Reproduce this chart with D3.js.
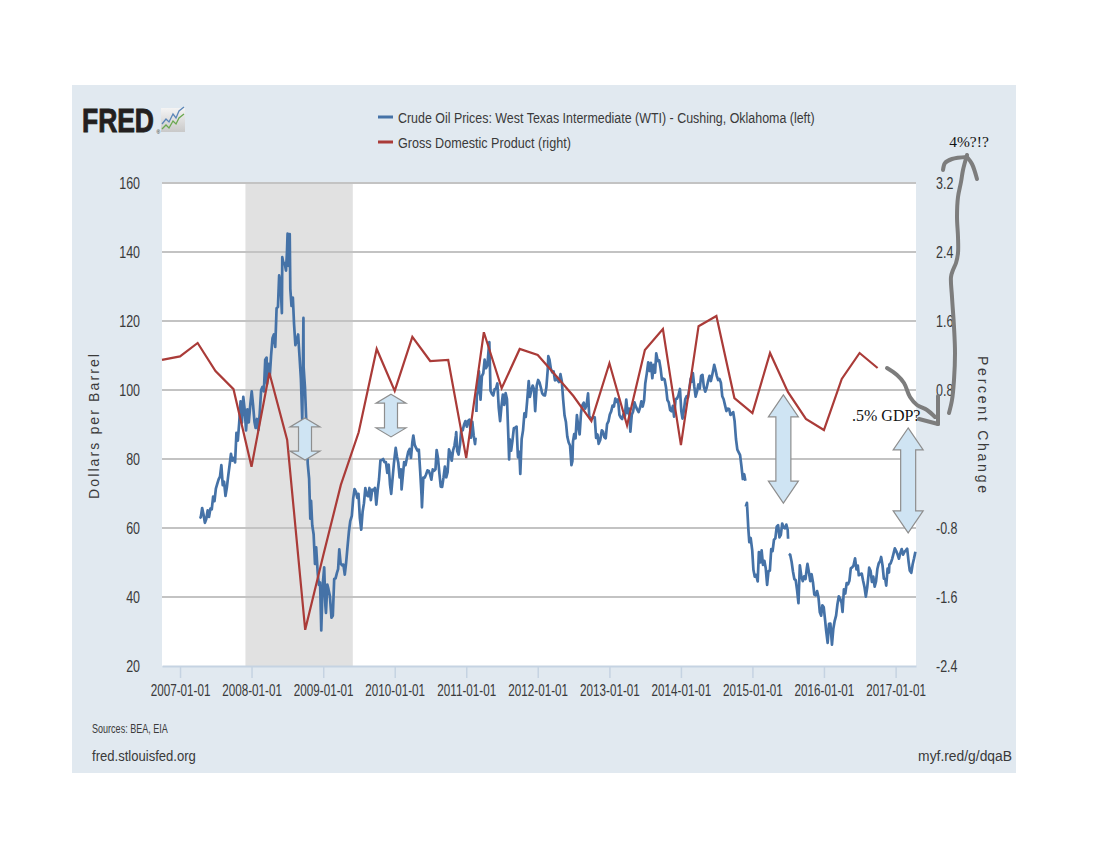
<!DOCTYPE html>
<html><head><meta charset="utf-8">
<script src="https://cdn.jsdelivr.net/npm/d3@7"></script>
<style>body{margin:0;background:#fff;} svg{display:block;}</style>
</head><body><svg id="chart" width="1100" height="850"></svg>
<script>
// ---------------- DATA ----------------
const oilSeries = [
["2007-04-10",62.9],["2007-04-17",63.1],["2007-04-24",65.8],["2007-05-01",63.9],["2007-05-08",61.5],["2007-05-15",62.6],["2007-05-22",65.1],["2007-05-29",63.2],["2007-06-05",65.6],["2007-06-12",65.4],["2007-06-19",69.1],["2007-06-26",67.8],["2007-07-03",71.4],["2007-07-10",72.8],["2007-07-17",74.1],["2007-07-24",74.9],["2007-07-31",78.2],["2007-08-07",72.4],["2007-08-14",73.4],["2007-08-21",69.3],["2007-08-28",71.7],["2007-09-04",75.1],["2007-09-11",78.2],["2007-09-18",81.5],["2007-09-25",79.5],["2007-10-02",80.3],["2007-10-09",79.0],["2007-10-16",87.6],["2007-10-23",85.3],["2007-10-30",90.4],["2007-11-06",96.7],["2007-11-13",90.5],["2007-11-20",98.0],["2007-11-27",94.4],["2007-12-04",88.3],["2007-12-11",94.4],["2007-12-18",90.6],["2007-12-26",95.9],
["2008-01-02",99.6],["2008-01-09",95.6],["2008-01-16",90.8],["2008-01-22",89.0],["2008-01-29",91.6],["2008-02-05",88.4],["2008-02-12",93.3],["2008-02-19",100.0],["2008-02-26",100.9],["2008-03-04",99.6],["2008-03-11",108.8],["2008-03-18",109.4],["2008-03-20",101.8],["2008-03-27",107.6],["2008-04-03",103.9],["2008-04-10",110.1],["2008-04-17",115.0],["2008-04-24",116.1],["2008-05-01",112.5],["2008-05-08",123.7],["2008-05-15",124.1],["2008-05-21",133.2],["2008-05-28",130.9],["2008-06-04",122.3],["2008-06-06",138.5],["2008-06-12",136.7],["2008-06-18",136.8],["2008-06-25",134.6],["2008-06-30",140.0],["2008-07-03",145.3],["2008-07-08",136.0],["2008-07-14",145.2],["2008-07-17",129.3],["2008-07-23",124.4],["2008-07-30",126.8],["2008-08-05",119.2],["2008-08-12",113.0],["2008-08-19",114.5],["2008-08-26",116.1],["2008-09-02",109.7],["2008-09-09",103.3],["2008-09-16",91.2],["2008-09-19",104.6],["2008-09-22",120.9],["2008-09-23",106.6],["2008-09-30",100.6],["2008-10-07",90.1],["2008-10-14",78.6],["2008-10-21",74.3],["2008-10-27",62.7],["2008-10-31",67.9],["2008-11-06",60.8],["2008-11-13",58.2],["2008-11-20",49.6],["2008-11-26",54.4],["2008-12-04",46.8],["2008-12-10",43.5],["2008-12-16",44.2],["2008-12-22",30.3],["2008-12-26",37.7],["2008-12-31",44.6],
["2009-01-06",48.6],["2009-01-12",37.6],["2009-01-15",35.4],["2009-01-22",43.6],["2009-01-28",42.2],["2009-02-04",40.3],["2009-02-12",34.0],["2009-02-19",34.6],["2009-02-26",45.2],["2009-03-05",45.4],["2009-03-12",47.0],["2009-03-18",48.1],["2009-03-24",53.8],["2009-03-31",49.7],["2009-04-07",49.2],["2009-04-14",49.4],["2009-04-21",46.5],["2009-04-28",50.0],["2009-05-05",54.5],["2009-05-12",58.9],["2009-05-19",62.0],["2009-05-27",63.5],["2009-06-03",68.6],["2009-06-10",71.3],["2009-06-17",70.5],["2009-06-24",68.7],["2009-06-30",69.9],["2009-07-07",62.9],["2009-07-14",59.5],["2009-07-21",64.7],["2009-07-28",67.2],["2009-08-04",71.6],["2009-08-11",69.5],["2009-08-18",69.2],["2009-08-25",71.6],["2009-09-01",68.1],["2009-09-08",71.1],["2009-09-15",70.9],["2009-09-22",71.6],["2009-09-29",66.8],["2009-10-06",70.9],["2009-10-13",74.2],["2009-10-20",79.6],["2009-10-27",79.7],["2009-11-03",80.0],["2009-11-10",79.1],["2009-11-17",79.1],["2009-11-24",76.0],["2009-12-01",78.4],["2009-12-08",72.6],["2009-12-14",69.9],["2009-12-21",74.4],["2009-12-28",78.8],
["2010-01-06",83.2],["2010-01-12",80.8],["2010-01-19",79.0],["2010-01-26",74.7],["2010-02-02",77.0],["2010-02-05",71.2],["2010-02-11",74.9],["2010-02-18",79.1],["2010-02-25",78.2],["2010-03-04",80.2],["2010-03-11",82.1],["2010-03-18",82.9],["2010-03-25",80.3],["2010-04-01",84.9],["2010-04-06",86.8],["2010-04-13",84.1],["2010-04-20",83.2],["2010-04-27",82.4],["2010-05-04",82.7],["2010-05-11",76.4],["2010-05-18",69.4],["2010-05-20",66.0],["2010-05-27",74.6],["2010-06-03",74.6],["2010-06-10",75.5],["2010-06-17",76.7],["2010-06-24",76.5],["2010-06-30",75.6],["2010-07-07",74.0],["2010-07-14",77.0],["2010-07-21",76.6],["2010-07-28",77.0],["2010-08-03",82.6],["2010-08-10",80.2],["2010-08-17",75.8],["2010-08-24",72.0],["2010-08-31",71.9],["2010-09-07",74.6],["2010-09-14",77.8],["2010-09-21",74.7],["2010-09-28",76.2],["2010-10-05",82.8],["2010-10-12",81.7],["2010-10-19",79.5],["2010-10-26",82.5],["2010-11-02",83.9],["2010-11-09",86.7],["2010-11-11",87.8],["2010-11-16",82.3],["2010-11-23",81.3],["2010-11-30",84.1],["2010-12-07",88.7],["2010-12-14",88.3],["2010-12-21",90.0],["2010-12-28",91.0],
["2011-01-04",89.4],["2011-01-11",91.1],["2011-01-18",91.4],["2011-01-25",86.2],["2011-02-01",90.8],["2011-02-08",86.9],["2011-02-15",84.3],["2011-02-18",86.2],["2011-02-21",null],["2011-02-22",93.6],["2011-02-24",98.1],["2011-03-01",99.6],["2011-03-07",105.4],["2011-03-15",97.2],["2011-03-22",104.0],["2011-03-29",104.8],["2011-04-05",108.8],["2011-04-12",106.3],["2011-04-19",107.1],["2011-04-26",112.2],["2011-04-29",113.9],["2011-05-05",99.8],["2011-05-12",98.9],["2011-05-19",98.4],["2011-05-26",100.2],["2011-06-02",100.4],["2011-06-09",101.9],["2011-06-16",94.8],["2011-06-23",91.0],["2011-06-30",95.4],["2011-07-07",98.7],["2011-07-14",95.7],["2011-07-21",99.1],["2011-07-28",97.4],["2011-08-04",86.6],["2011-08-08",79.9],["2011-08-11",85.7],["2011-08-18",82.4],["2011-08-25",85.3],["2011-09-01",88.9],["2011-09-08",89.1],["2011-09-15",89.4],["2011-09-22",80.5],["2011-09-29",82.1],["2011-10-04",75.7],["2011-10-11",85.8],["2011-10-18",88.3],["2011-10-25",93.2],["2011-11-01",92.2],["2011-11-08",96.8],["2011-11-16",102.6],["2011-11-22",98.0],["2011-11-29",99.8],["2011-12-06",101.3],["2011-12-13",100.2],["2011-12-19",93.9],["2011-12-27",101.3],
["2012-01-03",102.9],["2012-01-10",102.2],["2012-01-17",100.7],["2012-01-24",99.0],["2012-01-31",98.5],["2012-02-07",98.4],["2012-02-14",100.7],["2012-02-21",105.8],["2012-02-24",109.8],["2012-03-01",108.8],["2012-03-08",106.2],["2012-03-15",105.1],["2012-03-22",105.4],["2012-03-29",102.8],["2012-04-05",103.3],["2012-04-12",102.8],["2012-04-19",102.3],["2012-04-26",104.6],["2012-05-03",102.5],["2012-05-10",97.1],["2012-05-17",92.6],["2012-05-24",90.7],["2012-05-31",86.5],["2012-06-07",84.8],["2012-06-14",83.9],["2012-06-21",78.2],["2012-06-26",79.4],["2012-06-29",85.0],["2012-07-05",87.2],["2012-07-12",86.0],["2012-07-19",92.7],["2012-07-26",89.4],["2012-08-02",87.1],["2012-08-09",93.4],["2012-08-16",95.6],["2012-08-23",96.3],["2012-08-30",94.6],["2012-09-06",95.5],["2012-09-14",99.0],["2012-09-20",92.4],["2012-09-27",91.9],["2012-10-04",91.7],["2012-10-11",92.1],["2012-10-18",92.1],["2012-10-25",86.1],["2012-11-01",87.1],["2012-11-07",84.4],["2012-11-15",85.5],["2012-11-23",88.3],["2012-11-29",88.0],["2012-12-06",86.3],["2012-12-13",86.0],["2012-12-20",90.1],["2012-12-27",90.9],
["2013-01-03",92.9],["2013-01-10",93.8],["2013-01-17",95.5],["2013-01-24",95.2],["2013-01-31",97.5],["2013-02-07",96.6],["2013-02-14",97.3],["2013-02-21",92.8],["2013-02-28",92.0],["2013-03-07",91.6],["2013-03-14",93.0],["2013-03-21",92.5],["2013-03-28",97.2],["2013-04-04",93.3],["2013-04-11",94.6],["2013-04-18",87.9],["2013-04-25",92.8],["2013-05-02",93.8],["2013-05-09",96.4],["2013-05-16",95.2],["2013-05-23",94.3],["2013-05-30",93.6],["2013-06-06",94.8],["2013-06-13",96.7],["2013-06-20",95.2],["2013-06-27",97.0],["2013-07-03",101.9],["2013-07-11",104.9],["2013-07-18",108.0],["2013-07-25",105.5],["2013-08-01",107.9],["2013-08-08",103.4],["2013-08-15",107.3],["2013-08-22",105.0],["2013-08-28",110.6],["2013-09-05",108.4],["2013-09-12",108.6],["2013-09-19",106.3],["2013-09-26",103.0],["2013-10-03",103.3],["2013-10-10",103.0],["2013-10-17",100.7],["2013-10-24",97.1],["2013-10-31",96.4],["2013-11-07",94.2],["2013-11-14",93.8],["2013-11-21",95.4],["2013-11-27",92.3],["2013-12-05",97.4],["2013-12-12",97.5],["2013-12-19",98.4],["2013-12-27",100.3],
["2014-01-03",93.9],["2014-01-09",91.7],["2014-01-16",94.0],["2014-01-23",97.3],["2014-01-30",98.2],["2014-02-06",97.8],["2014-02-13",100.4],["2014-02-20",103.3],["2014-02-27",102.4],["2014-03-03",104.9],["2014-03-10",101.1],["2014-03-17",98.1],["2014-03-24",99.5],["2014-03-31",101.6],["2014-04-07",100.4],["2014-04-14",104.1],["2014-04-21",104.4],["2014-04-28",100.9],["2014-05-05",99.5],["2014-05-12",100.6],["2014-05-19",102.4],["2014-05-27",104.1],["2014-06-03",102.6],["2014-06-10",104.4],["2014-06-17",106.4],["2014-06-20",107.3],["2014-06-27",105.7],["2014-07-03",104.1],["2014-07-10",102.9],["2014-07-17",103.2],["2014-07-24",102.1],["2014-07-31",98.2],["2014-08-07",97.3],["2014-08-14",95.6],["2014-08-21",93.9],["2014-08-28",94.6],["2014-09-04",94.5],["2014-09-11",92.8],["2014-09-18",93.1],["2014-09-25",93.6],["2014-10-02",91.0],["2014-10-09",85.8],["2014-10-16",82.7],["2014-10-23",81.9],["2014-10-30",81.1],["2014-11-06",77.9],["2014-11-13",74.2],["2014-11-20",75.6],["2014-11-26",73.7],["2014-11-27",null],["2014-11-28",66.2],["2014-12-04",67.3],["2014-12-11",59.9],["2014-12-16",55.9],["2014-12-23",57.1],["2014-12-31",53.5],
["2015-01-06",47.9],["2015-01-13",45.9],["2015-01-20",46.4],["2015-01-28",44.5],["2015-02-03",53.0],["2015-02-10",50.0],["2015-02-17",53.5],["2015-02-24",49.3],["2015-03-03",50.5],["2015-03-10",48.3],["2015-03-17",43.5],["2015-03-24",47.5],["2015-03-31",47.6],["2015-04-07",53.9],["2015-04-14",53.3],["2015-04-21",56.6],["2015-04-28",57.0],["2015-05-05",60.4],["2015-05-12",60.8],["2015-05-19",57.3],["2015-05-26",58.0],["2015-06-02",61.3],["2015-06-09",60.1],["2015-06-16",59.9],["2015-06-23",61.0],["2015-06-30",59.5],["2015-07-02",56.9],["2015-07-03",null],["2015-07-06",52.5],["2015-07-13",52.2],["2015-07-20",50.2],["2015-07-27",47.4],["2015-08-03",45.2],["2015-08-10",44.9],["2015-08-17",41.9],["2015-08-24",38.2],["2015-08-31",49.2],["2015-09-08",45.9],["2015-09-15",44.6],["2015-09-22",46.0],["2015-09-29",45.2],["2015-10-06",48.5],["2015-10-09",49.6],["2015-10-16",47.3],["2015-10-23",44.6],["2015-10-30",46.6],["2015-11-06",44.3],["2015-11-13",40.7],["2015-11-20",40.5],["2015-11-27",41.7],["2015-12-04",40.0],["2015-12-11",35.6],["2015-12-18",34.6],["2015-12-24",37.6],["2015-12-31",37.0],
["2016-01-07",33.3],["2016-01-12",30.4],["2016-01-20",26.7],["2016-01-27",32.2],["2016-02-03",32.3],["2016-02-11",26.2],["2016-02-18",30.8],["2016-02-25",33.1],["2016-03-03",34.6],["2016-03-10",37.9],["2016-03-17",40.2],["2016-03-24",39.5],["2016-03-31",38.3],["2016-04-05",35.7],["2016-04-12",42.2],["2016-04-19",41.0],["2016-04-26",44.0],["2016-05-03",43.7],["2016-05-10",44.7],["2016-05-17",48.3],["2016-05-24",48.6],["2016-05-31",49.1],["2016-06-08",51.2],["2016-06-15",48.0],["2016-06-22",49.1],["2016-06-27",46.3],["2016-07-05",46.6],["2016-07-12",46.8],["2016-07-19",44.7],["2016-07-26",42.9],["2016-08-02",40.1],["2016-08-09",42.8],["2016-08-16",46.6],["2016-08-19",48.5],["2016-08-26",47.6],["2016-09-02",44.4],["2016-09-09",45.9],["2016-09-16",43.0],["2016-09-23",44.5],["2016-09-30",48.2],["2016-10-07",49.8],["2016-10-14",50.4],["2016-10-19",51.6],["2016-10-26",49.2],["2016-11-02",45.3],["2016-11-09",45.2],["2016-11-14",43.3],["2016-11-21",48.2],["2016-11-28",47.1],["2016-11-30",49.4],["2016-12-07",49.8],["2016-12-14",51.0],["2016-12-21",52.5],["2016-12-28",54.1],
["2017-01-04",53.3],["2017-01-11",52.3],["2017-01-18",51.1],["2017-01-25",52.8],["2017-02-01",53.9],["2017-02-08",52.3],["2017-02-15",53.1],["2017-02-22",53.5],["2017-03-01",54.0],["2017-03-08",50.3],["2017-03-14",47.7],["2017-03-22",47.0],["2017-03-29",49.5],["2017-04-05",51.2],["2017-04-12",53.1]
];

const gdpDates = ["2006-10-01","2007-01-01","2007-04-01","2007-07-01","2007-10-01","2008-01-01","2008-04-01","2008-07-01","2008-10-01","2009-01-01","2009-04-01","2009-07-01","2009-10-01","2010-01-01","2010-04-01","2010-07-01","2010-10-01","2011-01-01","2011-04-01","2011-07-01","2011-10-01","2012-01-01","2012-04-01","2012-07-01","2012-10-01","2013-01-01","2013-04-01","2013-07-01","2013-10-01","2014-01-01","2014-04-01","2014-07-01","2014-10-01","2015-01-01","2015-04-01","2015-07-01","2015-10-01","2016-01-01","2016-04-01","2016-07-01","2016-10-01"];
const gdpValues = [1.15,1.19,1.345,1.02,0.81,-0.09,1.00,0.22,-1.98,-1.12,-0.30,0.31,1.276,0.79,1.415,1.136,1.148,0.01,1.47,0.82,1.276,1.206,0.97,0.73,0.44,1.11,0.39,1.264,1.507,0.16,1.54,1.658,0.707,0.533,1.229,0.777,0.464,0.336,0.928,1.229,1.055];

const leftTicks = [20,40,60,80,100,120,140,160];
const rightTicks = [3.2,2.4,1.6,0.8,-0.8,-1.6,-2.4];
const yearTicks = ["2007-01-01","2008-01-01","2009-01-01","2010-01-01","2011-01-01","2012-01-01","2013-01-01","2014-01-01","2015-01-01","2016-01-01","2017-01-01"];
const recession = ["2007-12-01","2009-06-01"];
const xDomain = ["2006-10-01","2017-04-15"];
const leftDomain = [20,160];
const rightDomain = [-2.4,3.2];
const legendLabels = ["Crude Oil Prices: West Texas Intermediate (WTI) - Cushing, Oklahoma (left)","Gross Domestic Product (right)"];
const axisTitles = ["Dollars per Barrel","Percent Change"];
const footerTexts = ["Sources: BEA, EIA","fred.stlouisfed.org","myf.red/g/dqaB"];
// hand-drawn annotation arrows (date, from/to in dollars)
const arrowNotes = [
  {date:"2008-09-30", lo:79.7, hi:91.9, head:9, shaft:6.5},
  {date:"2009-12-13", lo:86.4, hi:98.8, head:9, shaft:6.5},
  {date:"2015-06-08", lo:67.2, hi:98.6, head:22, shaft:7.5},
  {date:"2017-03-06", lo:58.6, hi:89.0, head:22, shaft:7.5}
];
const noteTexts = [".5% GDP?","4%?!?"];

// ---------------- SETUP ----------------
const parse = d3.timeParse("%Y-%m-%d");
const svg = d3.select("#chart");
const M = {left:162, right:916, top:183, bottom:666};

const x = d3.scaleTime().domain(xDomain.map(parse)).range([M.left, M.right]);
const yL = d3.scaleLinear().domain(leftDomain).range([M.bottom, M.top]);
const yR = d3.scaleLinear().domain(rightDomain).range([M.bottom, M.top]);

const TXT = "#3a3a3a";
const FONT = "'Liberation Sans', Arial, sans-serif";

// condensed text: placed with a translate + horizontal scale so its box is really narrow
function narrowText(parent, tx, ty, str, size, width, anchor, fill){
  const g = parent.append("g");
  const t = g.append("text").attr("font-family",FONT).attr("font-size",size).attr("fill",fill||TXT)
    .attr("text-anchor",anchor||"start").text(str);
  const w = t.node().getComputedTextLength();
  g.attr("transform",`translate(${tx},${ty}) scale(${width/w},1)`);
  return t;
}
// condense axis tick texts around their anchor
function condenseAxis(sel, ratio){
  sel.each(function(){
    const t = d3.select(this);
    const x0 = +t.attr("x") || 0;
    t.attr("x", x0/ratio).attr("transform",`scale(${ratio},1)`);
  });
}

// panel
svg.append("rect").attr("x",72).attr("y",85).attr("width",944).attr("height",688).attr("fill","#e1e9f0");
svg.append("rect").attr("x",M.left).attr("y",M.top).attr("width",M.right-M.left).attr("height",M.bottom-M.top).attr("fill","#fff");

// recession
svg.append("rect")
  .attr("x", x(parse(recession[0]))).attr("y", M.top)
  .attr("width", x(parse(recession[1])) - x(parse(recession[0])))
  .attr("height", M.bottom-M.top).attr("fill","#e1e1e1");

// gridlines
svg.append("g").selectAll("line").data(leftTicks.filter(d=>d>leftDomain[0])).join("line")
  .attr("x1",M.left).attr("x2",M.right)
  .attr("y1",d=>yL(d)).attr("y2",d=>yL(d))
  .attr("stroke","#c3c3c3").attr("stroke-width",2);

// x axis
const xAxis = svg.append("g").attr("transform",`translate(0,${M.bottom})`)
  .call(d3.axisBottom(x).tickValues(yearTicks.map(parse)).tickFormat(d3.timeFormat("%Y-%m-%d")).tickSize(12).tickSizeOuter(0).tickPadding(6));
xAxis.select(".domain").attr("stroke","#c5d3e2").attr("stroke-width",2);
xAxis.selectAll(".tick line").attr("stroke","#c5d3e2").attr("stroke-width",1.5);
xAxis.selectAll("text").attr("fill",TXT).attr("font-family",FONT).attr("font-size",16).attr("dy","0.75em");
condenseAxis(xAxis.selectAll("text"), 0.73);

// left axis labels
const lAxis = svg.append("g").attr("transform",`translate(${M.left},0)`)
  .call(d3.axisLeft(yL).tickValues(leftTicks).tickFormat(d3.format("d")).tickSize(0).tickPadding(22));
lAxis.select(".domain").remove();
lAxis.selectAll("text").attr("fill",TXT).attr("font-family",FONT).attr("font-size",16);
condenseAxis(lAxis.selectAll("text"), 0.78);

// right axis labels
const rAxis = svg.append("g").attr("transform",`translate(${M.right},0)`)
  .call(d3.axisRight(yR).tickValues(rightTicks).tickFormat(d=>d.toFixed(1)).tickSize(0).tickPadding(20));
rAxis.select(".domain").remove();
rAxis.selectAll("text").attr("fill",TXT).attr("font-family",FONT).attr("font-size",16);
condenseAxis(rAxis.selectAll("text"), 0.78);

// axis titles
svg.append("text").attr("transform",`translate(99,${(M.top+M.bottom)/2+2}) rotate(-90)`)
  .attr("text-anchor","middle").attr("font-family",FONT).attr("font-size",14).attr("fill",TXT)
  .attr("textLength",145).attr("lengthAdjust","spacing").text(axisTitles[0]);
svg.append("text").attr("transform",`translate(978,${(M.top+M.bottom)/2}) rotate(90)`)
  .attr("text-anchor","middle").attr("font-family",FONT).attr("font-size",14).attr("fill",TXT)
  .attr("textLength",137).attr("lengthAdjust","spacing").text(axisTitles[1]);

// ---------------- SERIES ----------------
const oil = oilSeries.map(d=>({date:parse(d[0]), v:d[1]}));
const oilLine = d3.line().defined(d=>d.v!==null).x(d=>x(d.date)).y(d=>yL(d.v));
svg.append("path").datum(oil).attr("d",oilLine).attr("fill","none")
  .attr("stroke","#4572a7").attr("stroke-width",2.7).attr("stroke-linejoin","round");

const gdp = gdpDates.map((d,i)=>({date:parse(d), v:gdpValues[i]}));
const gdpLine = d3.line().x(d=>x(d.date)).y(d=>yR(d.v));
svg.append("path").datum(gdp).attr("d",gdpLine).attr("fill","none")
  .attr("stroke","#aa3b38").attr("stroke-width",2.2).attr("stroke-linejoin","miter");

// ---------------- LEGEND & LOGO ----------------
const legColors = ["#4572a7","#aa3b38"];
const legWidths = [417,173];
legendLabels.forEach((t,i)=>{
  const yy = 117 + i*25;
  svg.append("line").attr("x1",378).attr("x2",393).attr("y1",yy).attr("y2",yy).attr("stroke",legColors[i]).attr("stroke-width",3);
  narrowText(svg, 398, yy+5.5, t, 15, legWidths[i]);
});

const logo = svg.append("g");
const fredT = logo.append("text").attr("font-family",FONT).attr("font-weight","bold").attr("font-size",33)
  .attr("fill","#231f20").attr("stroke","#231f20").attr("stroke-width",0.9).text("FRED");
const fw = fredT.node().getComputedTextLength();
logo.attr("transform",`translate(82,132) scale(${72/fw},1)`);
svg.append("text").attr("x",156.5).attr("y",134).attr("font-family",FONT).attr("font-size",5).attr("fill","#231f20").text("®");
const defs = svg.append("defs");
const lg = defs.append("linearGradient").attr("id","icog").attr("x1",0).attr("y1",0).attr("x2",0).attr("y2",1);
lg.append("stop").attr("offset",0).attr("stop-color","#f4f4f4");
lg.append("stop").attr("offset",1).attr("stop-color","#c9c9c9");
svg.append("rect").attr("x",161).attr("y",108).attr("width",24).attr("height",24).attr("fill","url(#icog)");
svg.append("polyline").attr("points","162,124 166,119 169,122 173,114 176,118 179,111 184,107").attr("fill","none").attr("stroke","#5b86b8").attr("stroke-width",1.3);
svg.append("polyline").attr("points","162,129 166,125 169,128 173,121 176,124 179,118 184,114").attr("fill","none").attr("stroke","#6aa84f").attr("stroke-width",1.3);

// ---------------- FOOTER ----------------
narrowText(svg, 92, 733, footerTexts[0], 12, 76);
narrowText(svg, 92, 761, footerTexts[1], 15.5, 104);
narrowText(svg, 1012, 761, footerTexts[2], 15.5, 94, "end");

// ---------------- ANNOTATIONS ----------------
arrowNotes.forEach(a=>{
  const cx = x(parse(a.date)), yt = yL(a.hi), yb = yL(a.lo), hw = 15, h = a.head, s = a.shaft;
  const p = d3.path();
  p.moveTo(cx,yt); p.lineTo(cx+hw,yt+h); p.lineTo(cx+s,yt+h); p.lineTo(cx+s,yb-h); p.lineTo(cx+hw,yb-h);
  p.lineTo(cx,yb); p.lineTo(cx-hw,yb-h); p.lineTo(cx-s,yb-h); p.lineTo(cx-s,yt+h); p.lineTo(cx-hw,yt+h); p.closePath();
  svg.append("path").attr("d",p.toString()).attr("fill","#cfe4f3").attr("stroke","#8e8e8e").attr("stroke-width",1.2);
});

svg.append("text").attr("x",852).attr("y",421).attr("font-family","'Liberation Serif', 'Times New Roman', serif")
  .attr("font-size",16).attr("fill","#111").text(noteTexts[0]);
svg.append("text").attr("x",969).attr("y",147).attr("text-anchor","middle").attr("font-family","'Liberation Serif', 'Times New Roman', serif")
  .attr("font-size",15.5).attr("fill","#111").text(noteTexts[1]);

const scribbles = [
  [[887,368],[897,375],[904,383],[910,397],[917,405],[927,410],[935,417]],
  [[938,396],[938,424]],
  [[919,419],[938,424]],
  [[949,413],[952,400],[954,380],[955,353],[954,327],[952,297],[951,277],[953,270],[956,263],[958,253],[958,237],[957,217],[958,197],[961,182],[963,170],[967,155]],
  [[943,170],[945,163],[952,159],[967,157]],
  [[967,157],[972,164],[977,179]]
];
const sLine = d3.line().curve(d3.curveCatmullRom);
scribbles.forEach(s=>{
  svg.append("path").attr("d",sLine(s)).attr("fill","none").attr("stroke","#7d7d7d")
    .attr("stroke-width",4).attr("stroke-linecap","round").attr("stroke-linejoin","round");
});
</script></body></html>
